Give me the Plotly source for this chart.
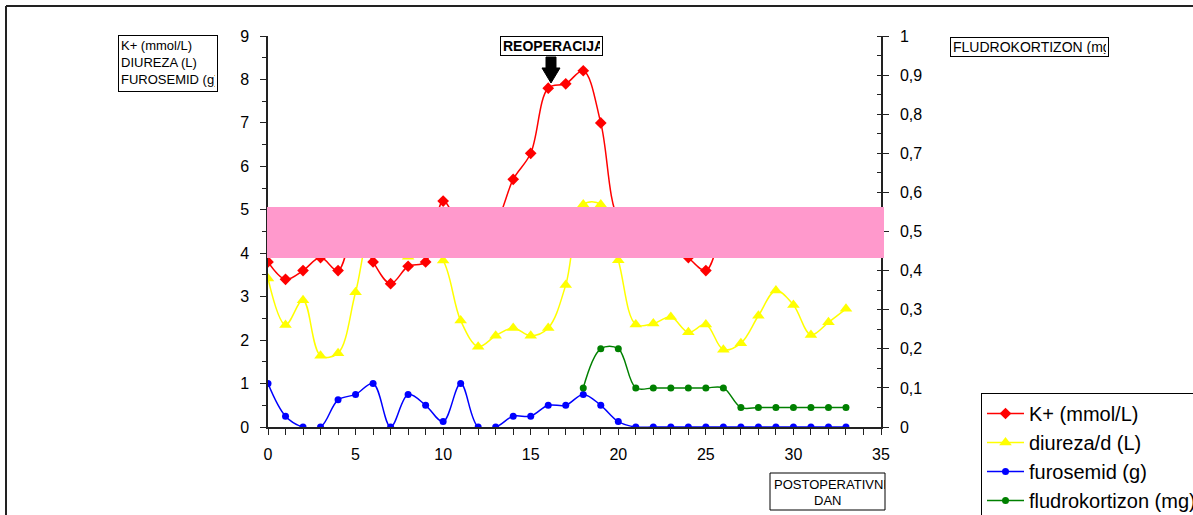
import plotly.graph_objects as go

# ---------------- data ----------------
days = list(range(0, 34))
k_plus = [3.8, 3.4, 3.6, 3.9, 3.6, 4.6, 3.8, 3.3, 3.7, 3.8,
          5.2, 4.6, 4.4, 4.7, 5.7, 6.3, 7.8, 7.9, 8.2, 7.0,
          4.8, 4.5, 4.4, 4.3, 3.9, 3.6, 4.4, 4.5, 4.4, 4.5,
          4.4, 4.5, 4.4, 4.5]
diureza = [3.42, 2.35, 2.92, 1.64, 1.70, 3.1, 4.6, 4.3, 3.92, 4.2,
           3.83, 2.45, 1.85, 2.1, 2.28, 2.1, 2.28, 3.27, 5.12, 5.12,
           3.84, 2.36, 2.38, 2.53, 2.18, 2.36, 1.78, 1.93, 2.56, 3.14,
           2.81, 2.12, 2.41, 2.72]
furosemid = [1.0, 0.25, 0, 0, 0.625, 0.75, 1.0, 0, 0.75, 0.5,
             0.125, 1.0, 0, 0, 0.25, 0.25, 0.5, 0.5, 0.75, 0.5,
             0.125, 0, 0, 0, 0, 0, 0, 0, 0, 0,
             0, 0, 0, 0]
fludro_days = list(range(18, 34))
fludrokortizon = [0.1, 0.2, 0.2, 0.1, 0.1, 0.1, 0.1, 0.1, 0.1,
                  0.05, 0.05, 0.05, 0.05, 0.05, 0.05, 0.05]

left_ticks = list(range(0, 10))
right_ticks = [i / 10 for i in range(0, 11)]
right_labels = ["0", "0,1", "0,2", "0,3", "0,4", "0,5", "0,6", "0,7", "0,8", "0,9", "1"]
x_ticks = [0, 5, 10, 15, 20, 25, 30, 35]

# ---------------- layout geometry ----------------
W, H = 1193, 515
L, R, T, B = 268, 881, 36, 427  # plot area in pixels


def px(xp):
    return (xp - L) / (R - L)


def py(yp):
    return (B - yp) / (B - T)


FONT = "Liberation Sans, Arial, sans-serif"

fig = go.Figure()
fig.add_trace(go.Scatter(
    x=days, y=k_plus, name="K+ (mmol/L)", mode="lines+markers",
    line=dict(color="#FF0000", width=1.5, shape="spline"),
    marker=dict(symbol="diamond", size=9, color="#FF0000"),
    legendgroup="a"))
fig.add_trace(go.Scatter(
    x=days, y=diureza, name="diureza/d (L)", mode="lines+markers",
    line=dict(color="#FFFF00", width=1.5, shape="spline"),
    marker=dict(symbol="triangle-up", size=11, color="#FFFF00"),
    legendgroup="b"))
fig.add_trace(go.Scatter(
    x=days, y=furosemid, name="furosemid (g)", mode="lines+markers",
    line=dict(color="#0000FF", width=1.5, shape="spline"),
    marker=dict(symbol="circle", size=7, color="#0000FF"),
    legendgroup="c"))
fig.add_trace(go.Scatter(
    x=fludro_days, y=fludrokortizon, name="fludrokortizon (mg)", mode="lines+markers",
    line=dict(color="#008000", width=1.5, shape="spline"),
    marker=dict(symbol="circle", size=7, color="#008000"),
    yaxis="y2", legendgroup="d"))

axis_common = dict(showgrid=False, zeroline=False, showline=True,
                   linecolor="#222", linewidth=1.5, tickcolor="#222",
                   tickfont=dict(family=FONT, size=16, color="black"))

fig.update_layout(
    width=W, height=H,
    margin=dict(l=L, r=W - R, t=T, b=H - B, autoexpand=False),
    paper_bgcolor="white", plot_bgcolor="white",
    font=dict(family=FONT, color="black"),
    xaxis=dict(range=[0, 35], tickvals=x_ticks, ticks="outside", ticklen=6,
               minor=dict(dtick=1, ticks="outside", ticklen=6, tickcolor="#222"),
               ticklabelstandoff=6, **axis_common),
    yaxis=dict(range=[0, 9], tickvals=left_ticks, ticks="outside", ticklen=6,
               minor=dict(dtick=0.5, ticks="outside", ticklen=4, tickcolor="#222"),
               ticklabelstandoff=8, **axis_common),
    yaxis2=dict(range=[0, 1], overlaying="y", side="right", anchor="x",
                tickvals=right_ticks, ticktext=right_labels,
                ticks="outside", ticklen=6,
                minor=dict(dtick=0.05, ticks="inside", ticklen=4, tickcolor="#222"),
                ticklabelstandoff=8, **axis_common),
    showlegend=True,
    legend=dict(xref="container", yref="container",
                x=981 / W, y=1 - 393 / H, xanchor="left", yanchor="top",
                bordercolor="black", borderwidth=1, bgcolor="white",
                font=dict(family=FONT, size=20, color="black"),
                itemwidth=37, tracegroupgap=10, traceorder="normal"),
)

shapes = []
# pink band over the plot
shapes.append(dict(type="rect", xref="paper", yref="paper",
                   x0=px(267), x1=px(884), y0=py(258), y1=py(207),
                   fillcolor="#FF99CC", line=dict(width=0), layer="above"))
# outer frame lines
shapes.append(dict(type="line", xref="paper", yref="paper",
                   x0=px(6), x1=px(1195), y0=py(6), y1=py(6),
                   line=dict(color="#222", width=2)))
shapes.append(dict(type="line", xref="paper", yref="paper",
                   x0=px(6), x1=px(6), y0=py(6), y1=py(517),
                   line=dict(color="#222", width=2)))
# arrow
arrow_pts = [(546, 57), (556, 57), (556, 68), (560, 68), (551, 83), (542, 68), (546, 68)]
path = "M " + " L ".join(f"{px(a):.5f},{py(b):.5f}" for a, b in arrow_pts) + " Z"
shapes.append(dict(type="path", xref="paper", yref="paper", path=path,
                   fillcolor="black", line=dict(color="black", width=1)))
# box for x-axis title
shapes.append(dict(type="rect", xref="paper", yref="paper",
                   x0=px(770), x1=px(885), y0=py(510), y1=py(473),
                   line=dict(color="black", width=1), fillcolor="rgba(0,0,0,0)"))
fig.update_layout(shapes=shapes)

ann = []
ann.append(dict(xref="paper", yref="paper", x=px(118), y=py(35),
                xanchor="left", yanchor="top", showarrow=False,
                text="K+ (mmol/L)<br>DIUREZA (L)<br>FUROSEMID (g)",
                align="left", width=94, height=51, valign="top",
                font=dict(family=FONT, size=13, color="black"),
                bordercolor="black", borderwidth=1, borderpad=2, bgcolor="white"))
ann.append(dict(xref="paper", yref="paper", x=px(500), y=py(36),
                xanchor="left", yanchor="top", showarrow=False,
                text="<b>REOPERACIJA</b>", align="left", width=97, height=14,
                font=dict(family=FONT, size=14, color="black"),
                bordercolor="black", borderwidth=1, borderpad=2, bgcolor="white"))
ann.append(dict(xref="paper", yref="paper", x=px(950), y=py(37),
                xanchor="left", yanchor="top", showarrow=False,
                text="FLUDROKORTIZON (mg)", align="left", width=153, height=14,
                font=dict(family=FONT, size=14, color="black"),
                bordercolor="black", borderwidth=1, borderpad=2, bgcolor="white"))
ann.append(dict(xref="paper", yref="paper", x=px(772), y=py(474),
                xanchor="left", yanchor="top", showarrow=False,
                text="POSTOPERATIVNI", align="left", width=111, height=16,
                font=dict(family=FONT, size=13, color="black")))
ann.append(dict(xref="paper", yref="paper", x=px(827.5), y=py(491),
                xanchor="center", yanchor="top", showarrow=False,
                text="DAN", font=dict(family=FONT, size=13, color="black")))
fig.update_layout(annotations=ann)

fig.write_html("out.html", config={"displayModeBar": False},
               post_script="document.body.style.margin='0px';document.body.style.overflow='hidden';")
